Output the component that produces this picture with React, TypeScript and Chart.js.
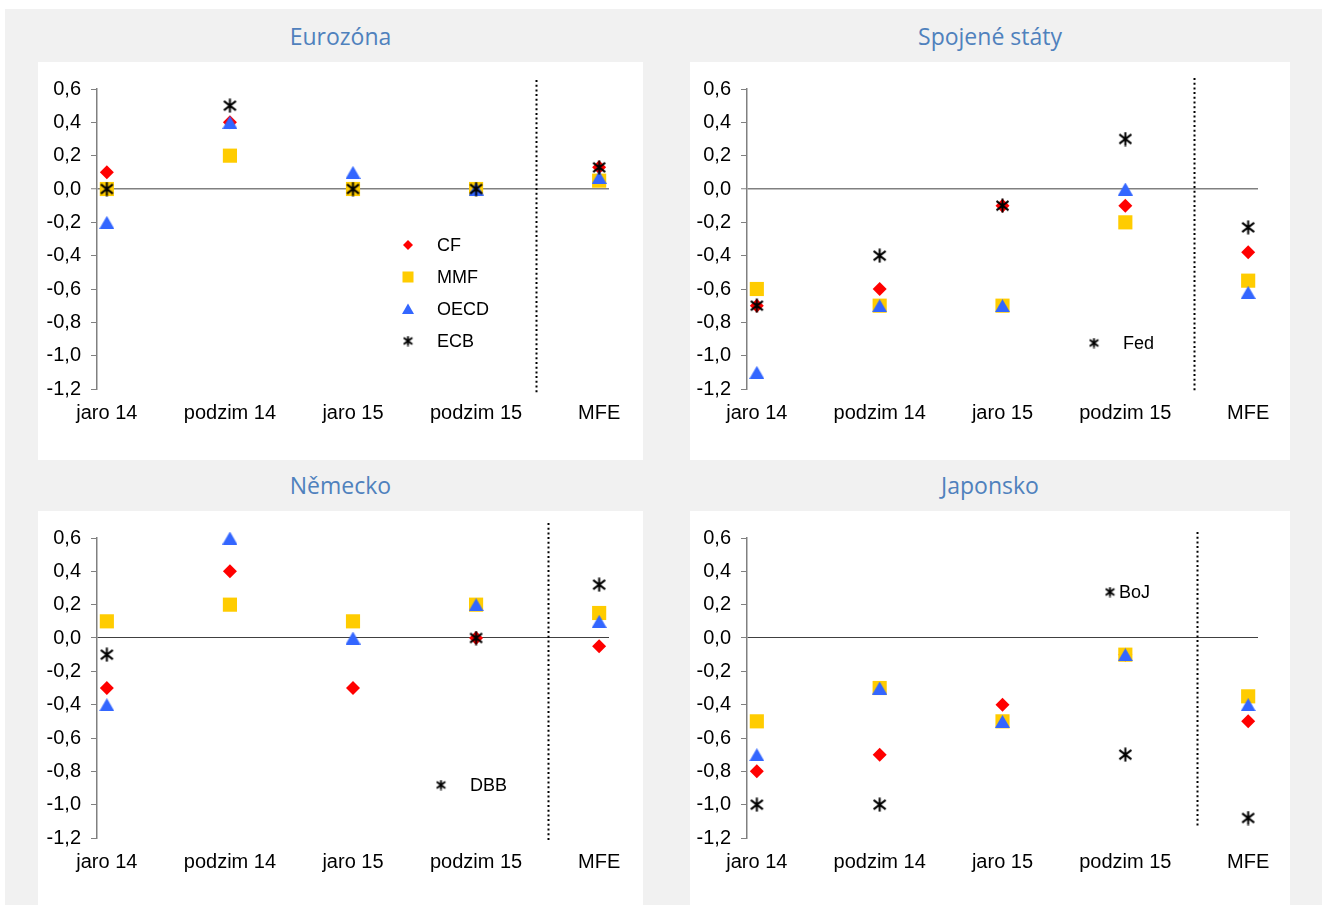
import React, { useEffect, useRef } from 'react';
import { Chart, registerables } from 'chart.js';

Chart.register(...registerables);

// ---------- data ----------
const categories = ['jaro 14', 'podzim 14', 'jaro 15', 'podzim 15', 'MFE'];
const yTicks = [0.6, 0.4, 0.2, 0.0, -0.2, -0.4, -0.6, -0.8, -1.0, -1.2];

// Eurozóna
const ezCF = [0.1, 0.4, 0.0, 0.0, 0.13];
const ezMMF = [0.0, 0.2, 0.0, 0.0, 0.05];
const ezOECD = [-0.2, 0.4, 0.1, 0.0, 0.07];
const ezECB = [0.0, 0.5, 0.0, 0.0, 0.13];

// Spojené státy
const usCF = [-0.7, -0.6, -0.1, -0.1, -0.38];
const usMMF = [-0.6, -0.7, -0.7, -0.2, -0.55];
const usOECD = [-1.1, -0.7, -0.7, 0.0, -0.62];
const usFed = [-0.7, -0.4, -0.1, 0.3, -0.23];

// Německo
const deCF = [-0.3, 0.4, -0.3, 0.0, -0.05];
const deMMF = [0.1, 0.2, 0.1, 0.2, 0.15];
const deOECD = [-0.4, 0.6, 0.0, 0.2, 0.1];
const deDBB = [-0.1, null, null, 0.0, 0.32];

// Japonsko
const jpCF = [-0.8, -0.7, -0.4, -0.1, -0.5];
const jpMMF = [-0.5, -0.3, -0.5, -0.1, -0.35];
const jpOECD = [-0.7, -0.3, -0.5, -0.1, -0.4];
const jpBoJ = [-1.0, -1.0, null, -0.7, -1.08];

// ---------- styles ----------
const RED = '#FF0000';
const YELLOW = '#FFCC00';
const BLUE = '#3366FF';
const BLACK = '#000000';
const FONT_FAMILY = '"Liberation Sans", Arial, sans-serif';
const TICK_FONT = { family: FONT_FAMILY, size: 20 };

function makeStar(size: number, lw: number) {
  const c = document.createElement('canvas');
  c.width = size;
  c.height = size;
  const g = c.getContext('2d')!;
  g.strokeStyle = BLACK;
  g.lineWidth = lw;
  g.lineCap = 'butt';
  const m = size / 2;
  const r = size / 2 - 0.5;
  g.beginPath();
  g.moveTo(m, m - r);
  g.lineTo(m, m + r);
  const dx = r * 0.86;
  const dy = r * 0.66;
  g.moveTo(m - dx, m - dy);
  g.lineTo(m + dx, m + dy);
  g.moveTo(m + dx, m - dy);
  g.lineTo(m - dx, m + dy);
  g.stroke();
  return c;
}

function makeTriangle(w: number, h: number) {
  const c = document.createElement('canvas');
  c.width = w;
  c.height = h;
  const g = c.getContext('2d')!;
  g.fillStyle = BLUE;
  g.beginPath();
  g.moveTo(w / 2, 0);
  g.lineTo(w, h);
  g.lineTo(0, h);
  g.closePath();
  g.fill();
  return c;
}

type PanelCfg = {
  title: string;
  left: number;
  top: number;
  w: number;
  h: number;
  yAxisWidth: number;
  padRight: number;
  cf: (number | null)[];
  mmf: (number | null)[];
  oecd: (number | null)[];
  bank: (number | null)[];
  bankName: string;
  zeroColor: string;
  zeroWidth: number;
  divider: { x: number; top: number; bottom: number };
  legend: { x: number; y: number; gap: number; rows: string[] };
};

const panels: PanelCfg[] = [
  {
    title: 'Eurozóna', left: 38, top: 62, w: 605, h: 398, yAxisWidth: 59, padRight: 34,
    cf: ezCF, mmf: ezMMF, oecd: ezOECD, bank: ezECB, bankName: 'ECB',
    zeroColor: '#808080', zeroWidth: 1.5,
    divider: { x: 4.49, top: 0.654, bottom: -1.23 },
    legend: { x: 370, y: 183, gap: 29, rows: ['CF', 'MMF', 'OECD', 'bank'] },
  },
  {
    title: 'Spojené státy', left: 690, top: 62, w: 600, h: 398, yAxisWidth: 57, padRight: 32,
    cf: usCF, mmf: usMMF, oecd: usOECD, bank: usFed, bankName: 'Fed',
    zeroColor: '#808080', zeroWidth: 1.5,
    divider: { x: 4.56, top: 0.666, bottom: -1.224 },
    legend: { x: 404, y: 281, gap: 29, rows: ['bank'] },
  },
  {
    title: 'Německo', left: 38, top: 511, w: 605, h: 394, yAxisWidth: 59, padRight: 34,
    cf: deCF, mmf: deMMF, oecd: deOECD, bank: deDBB, bankName: 'DBB',
    zeroColor: '#404040', zeroWidth: 1,
    divider: { x: 4.585, top: 0.69, bottom: -1.224 },
    legend: { x: 403, y: 274, gap: 29, rows: ['bank'] },
  },
  {
    title: 'Japonsko', left: 690, top: 511, w: 600, h: 394, yAxisWidth: 57, padRight: 32,
    cf: jpCF, mmf: jpMMF, oecd: jpOECD, bank: jpBoJ, bankName: 'BoJ',
    zeroColor: '#404040', zeroWidth: 1,
    divider: { x: 4.58, top: 0.636, bottom: -1.128 },
    legend: { x: 420, y: 81, gap: 9, rows: ['bank'] },
  },
];

function Panel({ cfg }: { cfg: PanelCfg }) {
  const ref = useRef<HTMLCanvasElement | null>(null);

  useEffect(() => {
    const canvas = ref.current;
    if (!canvas) return;
    const star = makeStar(15, 2);
    const starSmall = makeStar(11, 1.8);
    const tri = makeTriangle(15, 13);

    const toPts = (arr: (number | null)[]) =>
      arr.map((v, i) => ({ x: i + 1, y: v }));

    const datasets: any[] = [
      { label: 'CF', data: toPts(cfg.cf), pointStyle: 'rectRot', pointRadius: 7, backgroundColor: RED, order: 4 },
      { label: 'MMF', data: toPts(cfg.mmf), pointStyle: 'rect', pointRadius: 10, backgroundColor: YELLOW, order: 3 },
      { label: 'OECD', data: toPts(cfg.oecd), pointStyle: tri, pointRadius: 8, backgroundColor: BLUE, order: 2 },
      { label: cfg.bankName, data: toPts(cfg.bank), pointStyle: star, pointRadius: 7, backgroundColor: BLACK, order: 1 },
    ].map((d) => ({ ...d, borderWidth: 0, pointBorderWidth: 0, showLine: false, clip: false }));

    const dividerPlugin = {
      id: 'divider',
      beforeDatasetsDraw(chart: any) {
        const { ctx, scales } = chart;
        const x = Math.round(scales.x.getPixelForValue(cfg.divider.x)) + 0.5;
        const y1 = scales.y.getPixelForValue(cfg.divider.top);
        const y2 = scales.y.getPixelForValue(cfg.divider.bottom);
        ctx.save();
        ctx.strokeStyle = '#000';
        ctx.lineWidth = 2;
        ctx.setLineDash([2, 2.7]);
        ctx.beginPath();
        ctx.moveTo(x, y1);
        ctx.lineTo(x, y2);
        ctx.stroke();
        ctx.restore();
      },
    };

    const legendPlugin = {
      id: 'customLegend',
      afterDraw(chart: any) {
        const { ctx } = chart;
        ctx.save();
        ctx.font = '18px ' + FONT_FAMILY;
        ctx.textBaseline = 'middle';
        ctx.textAlign = 'left';
        cfg.legend.rows.forEach((row, i) => {
          const x = cfg.legend.x;
          const y = cfg.legend.y + i * 32;
          let label = row;
          if (row === 'CF') {
            ctx.fillStyle = RED;
            ctx.beginPath();
            ctx.moveTo(x, y - 5);
            ctx.lineTo(x + 5, y);
            ctx.lineTo(x, y + 5);
            ctx.lineTo(x - 5, y);
            ctx.closePath();
            ctx.fill();
          } else if (row === 'MMF') {
            ctx.fillStyle = YELLOW;
            ctx.fillRect(x - 5.5, y - 5.5, 11, 11);
          } else if (row === 'OECD') {
            ctx.fillStyle = BLUE;
            ctx.beginPath();
            ctx.moveTo(x, y - 5.5);
            ctx.lineTo(x + 6, y + 5);
            ctx.lineTo(x - 6, y + 5);
            ctx.closePath();
            ctx.fill();
          } else {
            label = cfg.bankName;
            ctx.drawImage(starSmall, x - 5.5, y - 5.5);
          }
          ctx.fillStyle = '#000';
          ctx.fillText(label, x + cfg.legend.gap, y + 1);
        });
        ctx.restore();
      },
    };

    const chart = new Chart(canvas, {
      type: 'scatter',
      data: { datasets },
      plugins: [dividerPlugin, legendPlugin],
      options: {
        animation: false,
        responsive: false,
        events: [],
        layout: { padding: { left: 0, right: cfg.padRight, top: 27, bottom: 0 }, autoPadding: false },
        plugins: { legend: { display: false }, tooltip: { enabled: false }, title: { display: false } },
        scales: {
          x: {
            type: 'linear',
            min: 0.92,
            max: 5.08,
            afterBuildTicks: (scale: any) => {
              scale.ticks = categories.map((_, i) => ({ value: i + 1 }));
            },
            afterFit: (scale: any) => {
              scale.height = cfg.h - 27 - 300;
            },
            grid: { display: false, drawTicks: false },
            border: { display: false },
            ticks: {
              font: TICK_FONT,
              color: '#000',
              padding: 12,
              maxRotation: 0,
              autoSkip: false,
              callback: (v: any) => categories[Math.round(Number(v)) - 1] ?? '',
            },
          },
          y: {
            type: 'linear',
            min: -1.2,
            max: 0.6,
            afterBuildTicks: (scale: any) => {
              scale.ticks = yTicks.map((v) => ({ value: v }));
            },
            afterFit: (scale: any) => {
              scale.width = cfg.yAxisWidth;
            },
            grid: {
              drawOnChartArea: true,
              drawTicks: true,
              tickLength: 6,
              tickColor: '#808080',
              tickWidth: 1,
              color: (ctx: any) => (ctx.tick && Math.abs(ctx.tick.value) < 1e-9 ? cfg.zeroColor : 'rgba(0,0,0,0)'),
              lineWidth: (ctx: any) => (ctx.tick && Math.abs(ctx.tick.value) < 1e-9 ? cfg.zeroWidth : 1),
            },
            border: { display: true, color: '#808080', width: 1.5 },
            ticks: {
              font: TICK_FONT,
              color: '#000',
              padding: 10,
              autoSkip: false,
              callback: (v: any) => Number(v).toFixed(1).replace('.', ','),
            },
          },
        },
      } as any,
    });
    return () => chart.destroy();
  }, [cfg]);

  return (
    <canvas
      ref={ref}
      width={cfg.w}
      height={cfg.h}
      style={{ position: 'absolute', left: cfg.left, top: cfg.top, width: cfg.w, height: cfg.h, background: '#fff' }}
    />
  );
}

export default function App() {
  return (
    <div style={{ position: 'absolute', left: 0, top: 0, width: 1322, height: 905, background: '#fff', overflow: 'hidden' }}>
      <div style={{ position: 'absolute', left: 5, top: 9, width: 1317, height: 896, background: '#F1F1F1' }} />
      {panels.map((p) => (
        <div
          key={p.title + '-t'}
          style={{
            position: 'absolute',
            left: p.left,
            top: p.top - 41,
            width: p.w,
            height: 30,
            lineHeight: '30px',
            textAlign: 'center',
            fontFamily: '"Open Sans", sans-serif',
            fontSize: 23,
            color: '#4F81BD',
          }}
        >
          {p.title}
        </div>
      ))}
      {panels.map((p) => (
        <Panel key={p.title} cfg={p} />
      ))}
    </div>
  );
}
